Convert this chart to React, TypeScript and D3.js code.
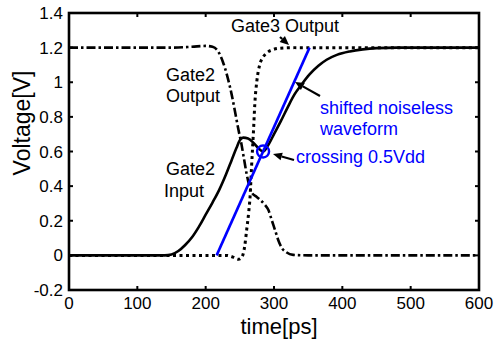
import React from "react";
import * as d3 from "d3";

// Axis ticks
const xTicks = [0, 100, 200, 300, 400, 500, 600];
const xTickLabels = ["0", "100", "200", "300", "400", "500", "600"];
const yTicks = [-0.2, 0, 0.2, 0.4, 0.6, 0.8, 1, 1.2, 1.4];
const yTickLabels = ["-0.2", "0", "0.2", "0.4", "0.6", "0.8", "1", "1.2", "1.4"];

// Gate2 input (solid)
const gate2InputT = [0, 100, 140, 150, 160, 170, 180, 190, 200, 210, 220, 230, 238, 245, 250, 255, 262, 270, 277, 284, 292, 300, 310, 320, 330, 340, 352, 365, 377, 392, 411, 430, 450, 480, 520, 600];
const gate2InputV = [0, 0, 0, 0.005, 0.025, 0.06, 0.105, 0.165, 0.235, 0.305, 0.38, 0.47, 0.55, 0.62, 0.665, 0.68, 0.675, 0.65, 0.62, 0.6, 0.64, 0.7, 0.775, 0.855, 0.93, 0.985, 1.045, 1.095, 1.13, 1.158, 1.178, 1.19, 1.197, 1.2, 1.2, 1.2];

// Gate2 output (dash-dot)
const gate2OutputT = [0, 50, 100, 150, 180, 200, 210, 218, 225, 232, 238, 243, 248, 252, 256, 260, 264, 268, 274, 280, 286, 292, 297, 302, 307, 312, 318, 328, 350, 450, 600];
const gate2OutputV = [1.2, 1.2, 1.2, 1.2, 1.205, 1.21, 1.205, 1.18, 1.12, 1.03, 0.93, 0.83, 0.725, 0.65, 0.56, 0.47, 0.4, 0.36, 0.34, 0.32, 0.295, 0.26, 0.2, 0.14, 0.08, 0.04, 0.018, 0.003, 0, 0, 0];

// Gate3 output (dotted)
const gate3OutputT = [0, 100, 200, 230, 240, 248, 253, 257, 260, 263, 265, 267, 270, 272, 275, 279, 284, 289, 298, 309, 330, 450, 600];
const gate3OutputV = [0, 0, 0, 0, -0.01, -0.023, -0.01, 0.05, 0.147, 0.25, 0.34, 0.5, 0.72, 0.88, 1.01, 1.1, 1.145, 1.168, 1.188, 1.197, 1.2, 1.2, 1.2];

// Shifted noiseless waveform (straight ramp) and its 0.5Vdd crossing
const noiselessT = [216, 352];
const noiselessV = [0, 1.2];
const crossingT = 284;
const crossingV = 0.6;

const W = 498;
const H = 344;
const FONT = "'Liberation Sans', Arial, Helvetica, sans-serif";
const BLUE = "#0000ff";

const x = d3.scaleLinear().domain([0, 600]).range([69, 479]);
const y = d3.scaleLinear().domain([-0.2, 1.4]).range([290, 13]);

const pairs = (t: number[], v: number[]): [number, number][] => t.map((ti, i) => [ti, v[i]]);

const line = d3
  .line<[number, number]>()
  .x((d) => x(d[0]))
  .y((d) => y(d[1]))
  .curve(d3.curveMonotoneX);

const straight = d3
  .line<[number, number]>()
  .x((d) => x(d[0]))
  .y((d) => y(d[1]));

function Arrow({ x1, y1, x2, y2, color }: { x1: number; y1: number; x2: number; y2: number; color: string }) {
  const ang = Math.atan2(y2 - y1, x2 - x1);
  const len = 9;
  const half = 4;
  const bx = x2 - len * Math.cos(ang);
  const by = y2 - len * Math.sin(ang);
  const px = -Math.sin(ang) * half;
  const py = Math.cos(ang) * half;
  return (
    <g>
      <line x1={x1} y1={y1} x2={bx} y2={by} stroke={color} strokeWidth={2.2} />
      <polygon points={`${x2},${y2} ${bx + px},${by + py} ${bx - px},${by - py}`} fill={color} />
    </g>
  );
}

export default function App() {
  const x0 = x.range()[0];
  const x1 = x.range()[1];
  const y0 = y.range()[0];
  const y1 = y.range()[1];
  const tickLen = 4;

  return (
    <svg width={W} height={H} style={{ position: "absolute", left: 0, top: 0, background: "#fff" }} fontFamily={FONT}>
      <rect x={0} y={0} width={W} height={H} fill="#fff" />

      {/* curves */}
      <path
        d={line(pairs(gate2OutputT, gate2OutputV)) || ""}
        fill="none"
        stroke="#000"
        strokeWidth={2.6}
        strokeDasharray="9,3,2.5,3"
      />
      <path
        d={line(pairs(gate3OutputT, gate3OutputV)) || ""}
        fill="none"
        stroke="#000"
        strokeWidth={3}
        strokeDasharray="3,3.5"
      />
      <path d={line(pairs(gate2InputT, gate2InputV)) || ""} fill="none" stroke="#000" strokeWidth={2.6} />
      <path d={straight(pairs(noiselessT, noiselessV)) || ""} fill="none" stroke={BLUE} strokeWidth={2.6} />
      <circle cx={x(crossingT)} cy={y(crossingV)} r={6} fill="none" stroke={BLUE} strokeWidth={2.4} />

      {/* frame and ticks */}
      <rect x={x0} y={y1} width={x1 - x0} height={y0 - y1} fill="none" stroke="#000" strokeWidth={2.6} />
      {xTicks.map((t, i) => (
        <g key={"xt" + i}>
          <line x1={x(t)} x2={x(t)} y1={y0} y2={y0 - tickLen} stroke="#000" strokeWidth={2} />
          <line x1={x(t)} x2={x(t)} y1={y1} y2={y1 + tickLen} stroke="#000" strokeWidth={2} />
          <text x={x(t)} y={309} textAnchor="middle" fontSize={17} fill="#000">
            {xTickLabels[i]}
          </text>
        </g>
      ))}
      {yTicks.map((v, i) => (
        <g key={"yt" + i}>
          <line x1={x0} x2={x0 + tickLen} y1={y(v)} y2={y(v)} stroke="#000" strokeWidth={2} />
          <line x1={x1} x2={x1 - tickLen} y1={y(v)} y2={y(v)} stroke="#000" strokeWidth={2} />
          <text x={63} y={y(v)} dy="0.36em" textAnchor="end" fontSize={17} fill="#000">
            {yTickLabels[i]}
          </text>
        </g>
      ))}

      {/* axis titles */}
      <text x={279} y={334} textAnchor="middle" fontSize={22} fill="#000">
        time[ps]
      </text>
      <text transform="translate(30,123) rotate(-90)" textAnchor="middle" fontSize={23} fill="#000">
        Voltage[V]
      </text>

      {/* annotations */}
      <text x={231} y={32} fontSize={18} fill="#000">Gate3 Output</text>
      <Arrow x1={280} y1={37} x2={289} y2={45} color="#000" />

      <text x={166} y={81} fontSize={18} fill="#000">Gate2</text>
      <text x={166} y={102} fontSize={18} fill="#000">Output</text>

      <text x={166} y={175} fontSize={18} fill="#000">Gate2</text>
      <text x={164} y={197} fontSize={18} fill="#000">Input</text>

      <text x={320} y={114} fontSize={18} fill={BLUE}>shifted noiseless</text>
      <text x={320} y={135} fontSize={18} fill={BLUE}>waveform</text>
      <Arrow x1={320} y1={96} x2={295} y2={82} color="#000" />

      <text x={296} y={163} fontSize={18} fill={BLUE}>crossing 0.5Vdd</text>
      <Arrow x1={294} y1={160} x2={273} y2={154} color="#000" />
    </svg>
  );
}
